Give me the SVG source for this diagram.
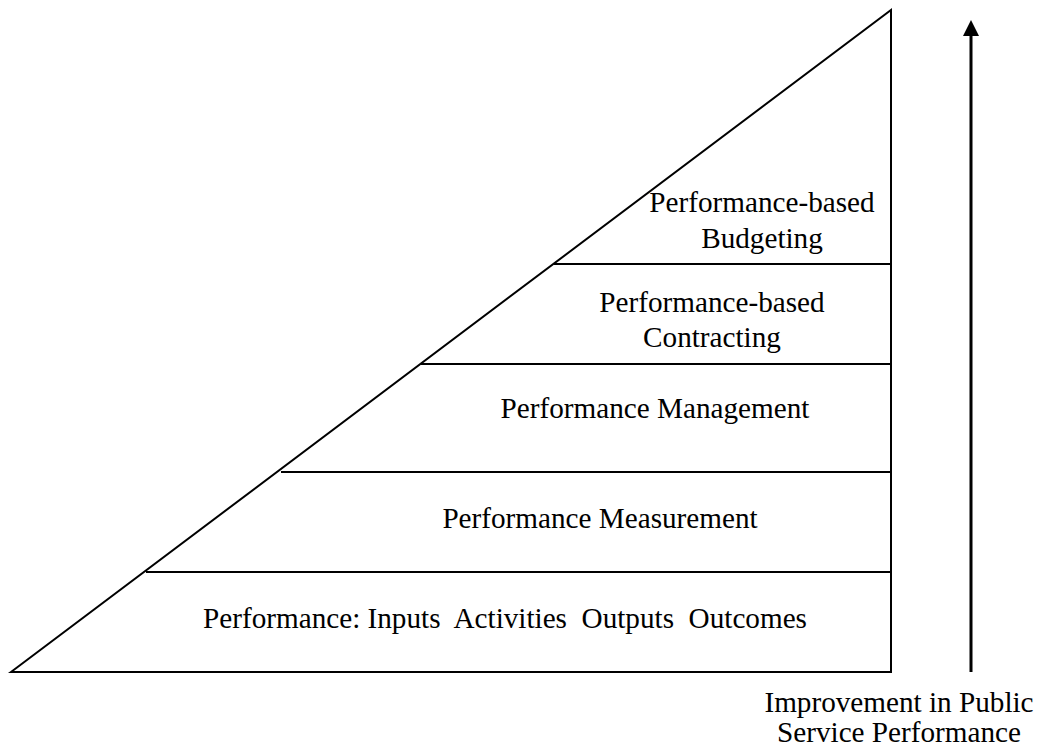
<svg xmlns="http://www.w3.org/2000/svg" width="1044" height="746" viewBox="0 0 1044 746">
  <style>
    .edge { fill: none; stroke: #000; stroke-width: 2; }
    .tier { stroke: #000; stroke-width: 2; }
    .label { font-family: "Liberation Serif", "Times New Roman", serif; font-size: 29.2px; fill: #000; text-anchor: middle; white-space: pre; }
  </style>
  <rect width="1044" height="746" fill="#fff"/>

  <!-- outer triangle -->
  <g id="pyramid">
    <path class="edge" d="M11,672 L891,10 L891,672 Z" stroke-linejoin="miter"/>
  </g>

  <!-- tier dividers -->
  <g id="dividers">
    <line class="tier" x1="146" y1="572" x2="891" y2="572"/>
    <line class="tier" x1="281" y1="472" x2="891" y2="472"/>
    <line class="tier" x1="421" y1="364" x2="891" y2="364"/>
    <line class="tier" x1="554" y1="264" x2="891" y2="264"/>
  </g>

  <g id="tier-budgeting">
    <text class="label" x="762" y="212">Performance-based</text>
    <text class="label" x="762" y="248">Budgeting</text>
  </g>
  <g id="tier-contracting">
    <text class="label" x="712" y="312">Performance-based</text>
    <text class="label" x="712" y="347">Contracting</text>
  </g>
  <g id="tier-management">
    <text class="label" x="655" y="418">Performance Management</text>
  </g>
  <g id="tier-measurement">
    <text class="label" x="600" y="528">Performance Measurement</text>
  </g>
  <g id="tier-base">
    <text class="label" x="505" y="628" xml:space="preserve">Performance: Inputs  Activities  Outputs  Outcomes</text>
  </g>

  <!-- improvement axis -->
  <g id="connectors">
    <line x1="971" y1="672" x2="971" y2="36" stroke="#000" stroke-width="3"/>
    <path d="M971,20 L979,36 L963,36 Z" fill="#000"/>
  </g>
  <g id="axis-label">
    <text class="label" x="899" y="712">Improvement in Public</text>
    <text class="label" x="899" y="742">Service Performance</text>
  </g>
</svg>
